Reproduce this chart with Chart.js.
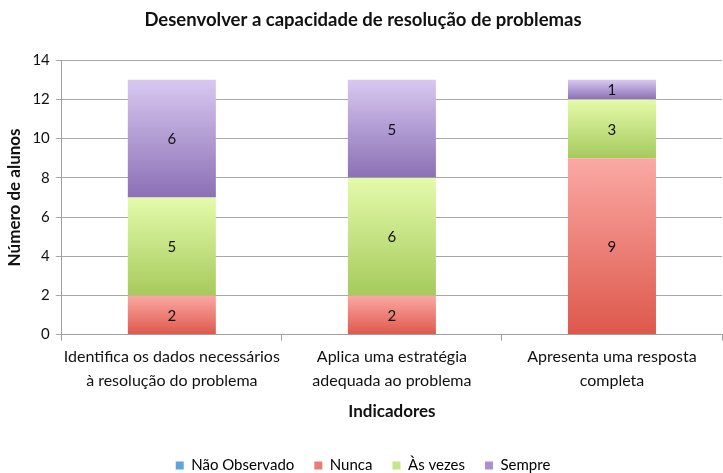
<!DOCTYPE html>
<html>
<head>
<meta charset="utf-8">
<script src="https://cdn.jsdelivr.net/npm/chart.js@4"></script>
<style>
  html, body { margin: 0; padding: 0; background: #fff; }
  #wrap { width: 723px; height: 473px; }
</style>
</head>
<body>
<div id="wrap"><canvas id="grafico"></canvas></div>
<script>
// dados do gráfico
var categorias = [
    ['Identifica os dados necessários', 'à resolução do problema'],
    ['Aplica uma estratégia', 'adequada ao problema'],
    ['Apresenta uma resposta', 'completa']
];
var naoObservado = [0, 0, 0];
var nunca = [2, 2, 9];
var asVezes = [5, 6, 3];
var sempre = [6, 5, 1];
var yTicks = [0, 2, 4, 6, 8, 10, 12, 14];

var series = [naoObservado, nunca, asVezes, sempre];

// cores (topo, base) de cada série
var cores = [
    ['#9cc8f0', '#4f8fd0'],
    ['#fba9a4', '#dd584c'],
    ['#e4fbab', '#a6ca5c'],
    ['#d8c8f0', '#8b70b5']
];
var coresLegenda = ['#5fa2e0', '#ec7b73', '#c5e587', '#a990d0'];
var fonte = 'Lato, "Liberation Sans", sans-serif';

function gradiente(ctx) {
    var chart = ctx.chart;
    var ds = ctx.datasetIndex;
    if (!chart.chartArea || ctx.dataIndex === undefined) return cores[ds][1];
    var y = chart.scales.y;
    var base = 0;
    for (var k = 0; k < ds; k++) base += series[k][ctx.dataIndex];
    var topo = base + series[ds][ctx.dataIndex];
    var y0 = y.getPixelForValue(topo);
    var y1 = y.getPixelForValue(base);
    if (y1 - y0 < 1) return cores[ds][1];
    var g = chart.ctx.createLinearGradient(0, y0, 0, y1);
    g.addColorStop(0, cores[ds][0]);
    g.addColorStop(1, cores[ds][1]);
    return g;
}

// rótulos de valor no meio de cada segmento
var rotulos = {
    id: 'rotulos',
    afterDatasetsDraw: function (chart) {
        var c = chart.ctx;
        c.save();
        c.font = '15px ' + fonte;
        c.fillStyle = '#111';
        c.textAlign = 'center';
        c.textBaseline = 'middle';
        chart.data.datasets.forEach(function (d, i) {
            var meta = chart.getDatasetMeta(i);
            meta.data.forEach(function (bar, j) {
                var v = d.data[j];
                if (!v) return;
                c.fillText(String(v), bar.x, (bar.y + bar.base) / 2 + 1);
            });
        });
        c.restore();
    }
};

var nomes = ['Não Observado', 'Nunca', 'Às vezes', 'Sempre'];

new Chart(document.getElementById('grafico'), {
    type: 'bar',
    data: {
        labels: categorias,
        datasets: series.map(function (s, i) {
            return {
                label: nomes[i],
                data: s,
                backgroundColor: gradiente,
                borderWidth: 0,
                categoryPercentage: 1,
                barPercentage: 0.4
            };
        })
    },
    options: {
        responsive: true,
        maintainAspectRatio: false,
        animation: false,
        layout: { padding: { top: 2, right: 1, left: 4, bottom: -10 } },
        plugins: {
            title: {
                display: true,
                text: 'Desenvolver a capacidade de resolução de problemas',
                color: '#111',
                font: { family: fonte, size: 18.5, weight: 'bold' },
                padding: { top: 7, bottom: 29 }
            },
            legend: {
                position: 'bottom',
                labels: {
                    boxWidth: 8,
                    boxHeight: 8,
                    padding: 20,
                    color: '#111',
                    font: { family: fonte, size: 15 },
                    generateLabels: function () {
                        return nomes.map(function (n, i) {
                            return { text: n, fillStyle: coresLegenda[i], strokeStyle: coresLegenda[i], lineWidth: 0, datasetIndex: i };
                        });
                    }
                }
            },
            tooltip: { enabled: false }
        },
        scales: {
            x: {
                stacked: true,
                grid: { display: true, drawOnChartArea: false, drawTicks: true, tickLength: 6, offset: true, color: '#a0a0a0' },
                border: { color: '#a0a0a0' },
                ticks: {
                    color: '#111',
                    font: { family: fonte, size: 16, lineHeight: 1.5 },
                    padding: 4,
                    maxRotation: 0,
                    minRotation: 0,
                    autoSkip: false
                },
                title: {
                    display: true,
                    text: 'Indicadores',
                    color: '#111',
                    font: { family: fonte, size: 17, weight: 'bold' },
                    padding: { top: 5, bottom: 16 }
                }
            },
            y: {
                stacked: true,
                min: 0,
                max: 14,
                afterBuildTicks: function (axis) {
                    axis.ticks = yTicks.map(function (v) { return { value: v }; });
                },
                grid: { color: '#a8a8a8', tickLength: 6 },
                border: { color: '#a0a0a0' },
                ticks: {
                    color: '#111',
                    font: { family: fonte, size: 15 },
                    padding: 6
                },
                title: {
                    display: true,
                    text: 'Número de alunos',
                    color: '#111',
                    font: { family: fonte, size: 17, weight: 'bold' },
                    padding: { top: 0, bottom: 2 }
                }
            }
        }
    },
    plugins: [rotulos]
});
</script>
</body>
</html>
